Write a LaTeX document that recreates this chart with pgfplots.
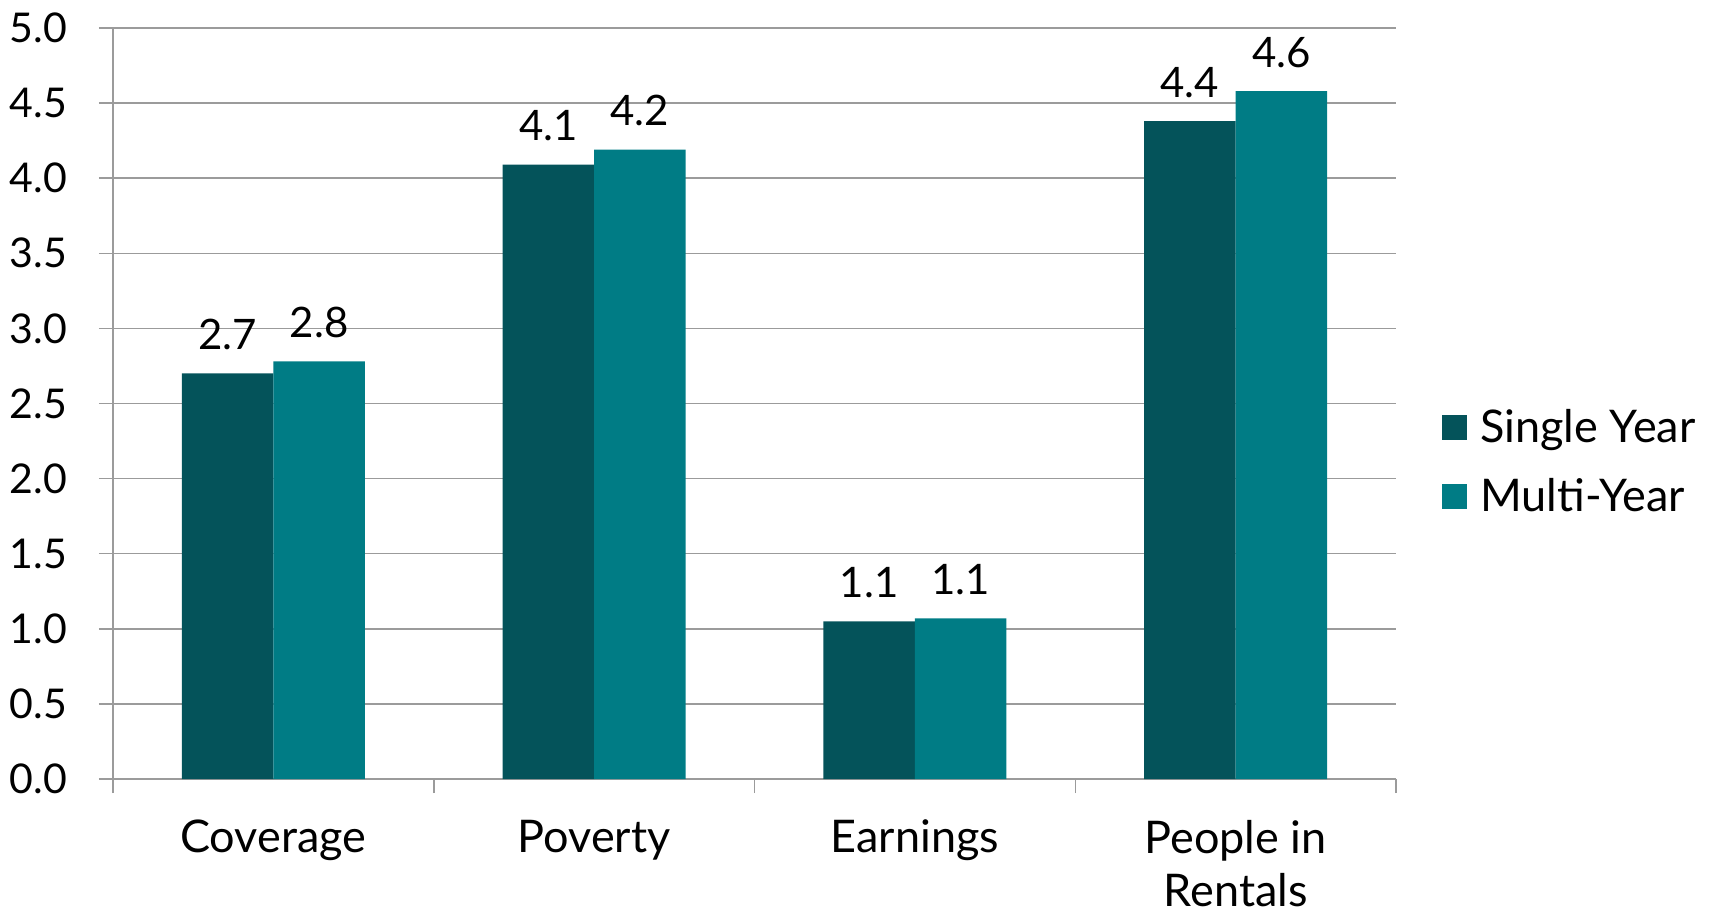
\documentclass[border=0pt]{standalone}
\usepackage{fontspec}
\setmainfont{Lato}
\usepackage{pgfplots}
\pgfplotsset{compat=1.18}
\definecolor{darkteal}{HTML}{04535A}
\definecolor{tealb}{HTML}{007C85}
\definecolor{gridgray}{HTML}{9B9B9B}
\begin{document}
\begin{tikzpicture}
\begin{axis}[
  scale only axis, width=641.5pt, height=375.5pt,
  ymin=0, ymax=5, ytick={0,0.5,1,1.5,2,2.5,3,3.5,4,4.5,5},
  xmin=-0.5, xmax=3.5,
  ybar=0pt, bar width=45.75pt,
  axis x line*=bottom, axis y line*=left,
  axis line style={gridgray, line width=0.75pt},
  ymajorgrids, grid style={gridgray, line width=0.75pt},
  xtick={0,1,2,3}, xticklabels={Coverage,Poverty,Earnings,{People in\\Rentals}},
  major x tick style={draw=none},
  minor xtick={-0.5,0.5,1.5,2.5,3.5},
  tick align=outside, tick style={gridgray, line width=0.75pt},
  major tick length=7pt, minor tick length=7pt,
  yticklabel style={/pgf/number format/fixed, /pgf/number format/fixed zerofill, /pgf/number format/precision=1, xshift=-12.5pt, font=\fontsize{20.5}{26.7}\selectfont},
  /pgf/number format/assume math mode=true,
  tick label style={black},
  xticklabel style={align=center, yshift=-10pt, font=\fontsize{22.5}{26.7}\selectfont},
  nodes near coords, point meta=explicit symbolic,
  every node near coord/.append style={font=\fontsize{21}{25}\selectfont, black, yshift=8.3pt},
  legend image code/.code={\fill[#1, draw=none] (0pt,-6.25pt) rectangle (12.5pt,6.25pt);},
  legend style={draw=none, fill=none, at={(1,0.422)}, anchor=west, xshift=20pt,
    font=\fontsize{22.5}{25}\selectfont, row sep=12.5pt,
    /tikz/every odd column/.append style={column sep=4.5pt}},
  legend cell align=left,
]
\addplot[fill=darkteal, draw=none] coordinates {(0,2.70)[2.7] (1,4.09)[4.1] (2,1.05)[1.1] (3,4.38)[4.4]};
\addplot[fill=tealb, draw=none] coordinates {(0,2.78)[2.8] (1,4.19)[4.2] (2,1.07)[1.1] (3,4.58)[4.6]};
\legend{Single Year, Multi-Year}
\coordinate (O) at (axis description cs:0,0);
\end{axis}
\pgfresetboundingbox
\path ([shift={(-56.5pt,-66.5pt)}]O) rectangle ([shift={(799pt,389.5pt)}]O);
\end{tikzpicture}
\end{document}
